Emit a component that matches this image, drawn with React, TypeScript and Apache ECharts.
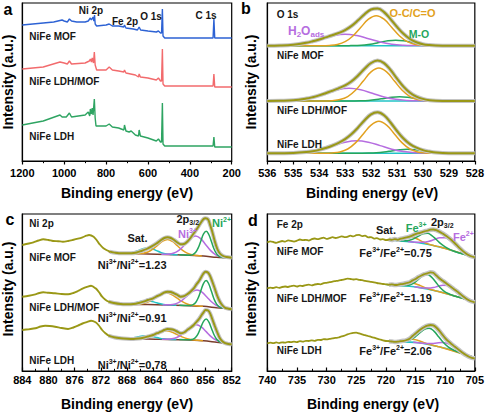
import React, { useEffect, useRef } from "react";
import * as echarts from "echarts";

type P = [number, number];

// ================= Panel a : survey spectra =================
const surveyMOF: P[] = [[1200,136],[1150,137],[1100,138],[1050,139],[1010,141],[1000,140],[985,139],[975,142],[965,140],[940,139],[900,139],[885,140],[875,143],[870,141],[862,144],[858,140],[855,146],[852,137],[845,135],[800,136],[785,137],[770,135],[740,135],[715,134],[712,136],[705,133],[670,132],[650,131],[642,134],[635,131],[600,130],[560,129],[550,130],[540,128],[535,128],[531,152],[528,125],[520,123],[500,123],[400,123],[300,123],[289,123],[285,142],[281,123],[200,123]];
const surveyLDHMOF: P[] = [[1200,92],[1100,94],[1020,99],[1000,98],[985,97],[975,100],[965,97],[900,98],[880,100],[875,102],[870,99],[866,103],[860,98],[856,109],[852,96],[845,91],[800,91],[785,94],[770,91],[740,90],[715,89],[712,91],[705,88],[660,86],[645,84],[642,87],[636,84],[600,83],[560,81],[550,83],[540,80],[535,80],[531,112],[528,77],[520,75],[300,75],[289,75],[285,87],[281,74],[200,74]];
const surveyLDH: P[] = [[1200,36],[1100,40],[1020,46],[1010,44],[990,44],[975,48],[965,44],[900,46],[885,49],[878,45],[875,52],[870,47],[866,53],[862,46],[856,62],[852,43],[848,35],[800,35],[785,37],[770,34],[740,33],[715,31],[712,36],[705,30],[690,29],[680,30],[660,26],[645,25],[642,31],[636,25],[600,23],[560,20],[550,22],[540,19],[535,19],[531,58],[528,17],[520,15],[300,15],[289,15],[285,24],[281,14],[200,14]];

// ================= Panel b : O 1s (heights above each baseline) =================
const o1sBase = [115.3, 60, 7.7]; // MOF, LDH/MOF, LDH
const o1sX = [536,535.5,535,534.5,534.25,534,533.75,533.5,533.25,533,532.75,532.5,532.25,532,531.75,531.5,531.25,531,530.75,530.5,530.25,530,529.75,529.5,529,528];
const o1sEnvMOF = [0,0.2,1.0,2.9,4.4,6.2,8.3,10.4,12.7,15.6,19.8,25.4,31.5,36.2,37.1,33.6,26.6,18.8,11.9,6.7,3.5,1.5,0.6,0.2,0,0];
const o1sEnvLM = [0,0.2,0.7,2.4,3.8,5.6,7.8,10.2,12.7,15.6,19.7,25.5,32.2,38.0,40.5,37.9,31.1,22.4,14.4,8.3,4.4,2.1,0.85,0.3,0,0];
const o1sEnvLDH = [0,0.1,0.3,1.2,2.1,3.4,5.3,7.6,10.4,14.1,19.2,25.8,33.0,39.0,41.0,38.0,30.8,22.3,14.8,9.2,5.6,3.2,1.75,0.75,0.1,0];

const ocX_MOF = [528,529.7,530.0,530.3,530.6,530.9,531.2,531.5,531.8,532.1,532.4,532.7,533.0,533.3,533.6,533.9,536];
const ocH_MOF = [0,0,0.3,1.3,4.05,9.75,18.2,26.5,30,26.5,18.2,9.75,4.05,1.3,0.3,0,0];
const ocX_LM = [528,529.6,529.9,530.2,530.5,530.8,531.1,531.4,531.7,532.0,532.3,532.6,532.9,533.2,533.5,533.8,536];
const ocH_LM = [0,0,0.36,1.45,4.45,10.7,20.0,29.1,33,29.1,20.0,10.7,4.45,1.45,0.36,0,0];
const ocH_LDH = [0,0,0.35,1.4,4.3,10.4,19.4,28.2,32,28.2,19.4,10.4,4.3,1.4,0.35,0,0];

const h2oX_MOF = [528,529.85,530.3,530.75,531.2,531.65,532.1,532.55,533,533.45,533.9,534.35,534.8,535.25,535.7,536];
const h2oH_MOF = [0,0,0.13,0.5,1.55,3.74,7.0,10.1,11.5,10.1,7.0,3.74,1.55,0.5,0.13,0.05];
const h2oX_LM = [528,529.7,530.15,530.6,531.05,531.5,531.95,532.4,532.85,533.3,533.75,534.2,534.65,535.1,535.55,536];
const h2oH_LM = [0,0,0.14,0.56,1.7,4.1,7.7,11.2,12.7,11.2,7.7,4.1,1.7,0.56,0.14,0];
const h2oX_LDH = [528,529.4,529.85,530.3,530.75,531.2,531.65,532.1,532.55,533.0,533.45,533.9,534.35,534.8,535.25,535.7,536];
const h2oH_LDH = [0,0,0.14,0.55,1.7,4.1,7.65,11.1,12.6,11.1,7.65,4.1,1.7,0.55,0.14,0,0];

const moX_MOF = [528,528.95,529.25,529.55,529.85,530.15,530.45,530.75,531.05,531.35,531.65,531.95,532.25,532.55,532.85,533.15,536];
const moH_MOF = [0,0,0.06,0.24,0.74,1.79,3.34,4.85,5.5,4.85,3.34,1.79,0.74,0.24,0.06,0,0];
const moX_LM = [528,528.8,529.1,529.4,529.7,530.0,530.3,530.6,530.9,531.2,531.5,531.8,532.1,532.4,532.7,533.0,536];
const moH_LM = [0,0,0.05,0.19,0.58,1.4,2.6,3.8,4.3,3.8,2.6,1.4,0.58,0.19,0.05,0,0];
const moX_LDH = [528,528.5,528.8,529.1,529.4,529.7,530.0,530.3,530.6,530.9,531.2,531.5,531.8,532.1,532.4,532.7,536];
const moH_LDH = [0,0,0.04,0.18,0.54,1.3,2.4,3.5,4,3.5,2.4,1.3,0.54,0.18,0.04,0,0];

// ================= Panel c : Ni 2p =================
const niMOF: P[] = [[884,126],[883,127.5],[882.3,128.7],[881.5,130.5],[880.8,131.7],[880,131],[879.3,130],[878.5,129.8],[877.8,129.3],[877,130],[876.3,131],[875.5,132.3],[874.8,133.7],[874.2,135.3],[873.8,136],[873.1,134.3],[872.6,130.5],[872.3,127.7],[871.6,122.7],[870.6,119.3],[869.8,118.3],[868.8,117.7],[867.3,117.7],[866.5,118.5],[865.8,120],[865,122],[864.3,124.3],[863.5,127.5],[862.8,131],[862.3,133],[861.8,133.7],[861.3,133],[860.8,131],[860.3,128.5],[859.8,126.7],[859.3,127],[858.8,129.3],[858.3,133],[857.8,137.7],[857.4,141.3],[857.1,144.3],[856.7,148.5],[856.3,152],[856,152.7],[855.6,151.5],[855.3,146],[855,140],[854.6,130],[854.2,122],[853.8,117.5],[853.3,115],[852.8,114],[852,113.3]];
const niLM: P[] = [[884,74.3],[883,75.2],[882,76.7],[881.4,78],[880.8,78.7],[880,78.2],[879,77.7],[878,77],[877,76.7],[876.2,78],[875.5,80],[874.8,82.3],[874,84.3],[873.5,85.3],[872.8,82.7],[872.3,79],[871.8,74.3],[871.3,71.3],[870.8,69.3],[870,68],[869,67],[868,66.8],[867,67],[866.2,68],[865.5,69.3],[864.8,71],[864,72.7],[863.4,74.8],[862.8,76.7],[862.3,78.5],[861.8,79.3],[861.3,79],[860.8,77.7],[860.3,76],[859.8,74.3],[859.3,74.8],[858.8,76.7],[858.3,79.3],[857.8,82.7],[857.4,86.5],[857,90],[856.6,94.5],[856.3,97.7],[856,99.3],[855.6,98.3],[855.3,95],[855,90],[854.6,82.7],[854.2,75],[853.8,69.3],[853.4,65.5],[853,63.2],[852.5,62.3],[852,61.7]];
const niLDH: P[] = [[884,41],[883,41.8],[882,42.7],[881.2,44.5],[880.5,45.3],[879.8,45],[879,44.3],[878,43],[877,42],[876.2,43.5],[875.5,45.3],[874.8,47.5],[874,49.3],[873.5,50.3],[872.8,48.7],[872.3,45.5],[871.8,41],[871.3,37.8],[870.8,35.3],[870,33.8],[869,32.7],[868,32.2],[867,32],[866.2,32.5],[865.5,33.3],[864.8,34.5],[864,36],[863.4,37.8],[862.8,39.3],[862.3,41],[861.8,42],[861.3,41.8],[860.8,41],[860.3,39.3],[859.8,37.7],[859.3,38.5],[858.8,41],[858.3,43.3],[857.8,46],[857.4,49],[857,52],[856.6,56],[856.3,58.7],[856,61],[855.6,60.5],[855.3,57.7],[855,52.5],[854.6,45.3],[854.2,38.5],[853.8,32.7],[853.4,29.5],[853,27.8],[852.5,27],[852,26.7]];
const niBgMOF: P[] = [[870.8,119.3],[868,117.5],[864.8,117],[859.3,116],[856.3,115],[854.3,113.7],[852,113]];
const niBgLM: P[] = [[870.8,69.3],[868,66.7],[864.8,66.4],[859.3,65.6],[856.3,64.7],[854.3,63.3],[852,61.9]];
const niBgLDH: P[] = [[870.8,35.3],[868,32.4],[864.8,32],[859.3,31.3],[856.3,30.3],[854.3,28.8],[852,27.2]];

const ni2X = [852,853.1,853.5,853.9,854.3,854.7,855.1,855.5,855.9,856.3,856.7,857.1,857.5,857.9,858.3,858.7,860];
const ni2MOF = [0,0.05,0.28,1.1,3.4,8.1,15.2,22.05,25,22.05,15.2,8.1,3.4,1.1,0.28,0.05,0];
const ni2LM = [0,0.05,0.29,1.14,3.5,8.45,15.8,22.9,26,22.9,15.8,8.45,3.5,1.14,0.29,0.05,0];
const ni2LDH = [0,0.04,0.24,0.97,3.0,7.15,13.4,19.4,22,19.4,13.4,7.15,3.0,0.97,0.24,0.04,0];
const ni3X_MOF = [852,852.25,853.0,853.75,854.5,855.25,856.0,856.75,857.5,858.25,859.0,859.75,860.5,861.25,862.0,862.75];
const ni3MOF = [0,0.04,0.21,0.86,2.6,6.3,11.8,17.2,19.5,17.2,11.8,6.3,2.6,0.86,0.21,0.04];
const ni3X_LM = [852.05,852.8,853.55,854.3,855.05,855.8,856.55,857.3,858.05,858.8,859.55,860.3,861.05,861.8,862.55];
const ni3LM = [0.03,0.18,0.7,2.16,5.2,9.7,14.1,16,14.1,9.7,5.2,2.16,0.7,0.18,0.03];
const ni3X_LDH = [852,852.15,852.9,853.65,854.4,855.15,855.9,856.65,857.4,858.15,858.9,859.65,860.4,861.15,861.9,862.65];
const ni3LDH = [0,0.03,0.17,0.68,2.1,5.0,9.4,13.7,15.5,13.7,9.4,5.0,2.1,0.68,0.17,0.03];
const niSatAX_MOF = [856.55,857.3,858.05,858.8,859.55,860.3,861.05,861.8,862.55,863.3,864.05,864.8,865.55,866.3,867.05];
const niSatAMOF = [0.03,0.17,0.66,2.0,4.9,9.1,13.2,15,13.2,9.1,4.9,2.0,0.66,0.17,0.03];
const niSatAX = [856.4,857.2,858.0,858.8,859.6,860.4,861.2,862.0,862.8,863.6,864.4,865.2,866.0,866.8,867.6];
const niSatALM = [0.02,0.13,0.53,1.6,3.9,7.3,10.6,12,10.6,7.3,3.9,1.6,0.53,0.13,0.02];
const niSatALDH = [0.02,0.09,0.37,1.15,2.8,5.2,7.5,8.5,7.5,5.2,2.8,1.15,0.37,0.09,0.02];
const niSatBX_MOF = [860.25,860.9,861.55,862.2,862.85,863.5,864.15,864.8,865.45,866.1,866.75,867.4,868.05,868.7,869.35];
const niSatBMOF = [0,0.07,0.26,0.81,1.95,3.64,5.3,6,5.3,3.64,1.95,0.81,0.26,0.07,0];
const niSatBX = [860.45,861.1,861.75,862.4,863.05,863.7,864.35,865,865.65,866.3,866.95,867.6,868.25,868.9,869.55];
const niSatBLM = [0,0.04,0.18,0.54,1.3,2.4,3.5,4,3.5,2.4,1.3,0.54,0.18,0.04,0];
const niSatBLDH = [0,0.04,0.15,0.45,1.07,2.0,2.9,3.3,2.9,2.0,1.07,0.45,0.15,0.04,0];

// ================= Panel d : Fe 2p =================
const feX = [740,739.5,739,738.5,738,737.5,737,736.5,736,735.5,735,734.5,734,733.5,733,732.5,732,731.5,731,730.5,730,729.5,729,728.5,728,727.5,727,726.5,726,725.5,725,724.5,724,723.5,723,722.5,722,721.5,721,720.5,720,719.5,719,718.5,718,717.5,717,716.5,716,715.5,715,714.5,714,713.5,713,712.5,712,711.5,711,710.5,710,709.5,709,708.5,708,707.5,707,706.5,706,705.5,705];
const feMOF = [128.7,129.6,129.0,128.2,129.1,130.0,129.4,130.6,130.1,129.4,130.3,131.5,130.8,131.2,130.4,131.9,132.5,131.8,132.6,133.4,132.1,132.9,133.8,133.0,133.6,134.7,133.9,134.2,135.3,134.6,135.8,136.2,134.9,135.4,133.6,133.9,132.4,132.9,131.5,131.9,130.8,131.6,131.1,131.9,131.2,132.3,132.8,133.6,134.3,135.6,136.8,137.8,138.7,139.6,140.4,141.3,141.5,140.8,139.4,137.8,135.8,133.6,131.2,128.5,125.6,122.6,119.9,117.6,115.8,114.5,113.7];
const feLM = [82.7,83.4,83.0,83.8,83.2,84.0,84.5,84.0,84.9,85.3,84.5,85.4,85.0,85.9,86.3,85.7,86.5,87.0,86.7,87.9,88.2,88.8,89.4,89.9,90.4,91.0,91.6,92.4,92.0,91.5,91.9,91.2,90.8,90.1,89.6,89.2,88.7,88.0,87.5,87.0,86.7,86.3,86.6,86.0,86.2,86.8,87.2,88.0,88.7,90.6,92.0,94.0,95.5,96.8,97.7,98.7,98.3,95.6,92.8,90.5,88.5,86.2,84.0,81.8,79.6,77.2,74.8,72.6,70.8,69.5,68.7];
const feLDH = [27.7,28.3,27.8,28.6,27.9,28.7,28.3,29.2,28.8,29.4,28.9,29.8,29.3,30.2,30.0,30.6,30.2,31.2,31.0,31.9,31.6,32.2,32.6,33.1,33.5,34.6,35.4,36.6,37.5,38.2,38.3,37.6,36.7,35.8,35.0,34.1,33.3,32.4,31.5,30.6,30.0,29.8,29.5,29.1,29.3,29.8,30.2,31.0,32.3,35.0,37.5,40.0,42.2,44.0,45.3,46.0,45.6,43.5,40.3,36.5,32.8,29.8,27.3,24.9,22.6,20.2,17.9,15.9,14.3,13.2,12.7];
const feBgMOF: P[] = [[720,131],[718,130.4],[716,129.3],[714.5,128.2],[713,126.7],[711.5,124.8],[710,122.7],[708,118.7],[706,115.3],[705,113.7]];
const feBgLM: P[] = [[720,86.5],[718,85.6],[716,84.7],[714.5,83.6],[713,82],[711.5,80],[710,77.7],[708,74.3],[706,71],[705,69.3]];
const feBgLDH: P[] = [[720,30],[718,29.2],[716,28.9],[714.5,28.2],[713,26.7],[711.5,24.8],[710,22.7],[708,19.3],[706,15.3],[705,13.3]];

const fe3X_MOF = [705,707.75,708.5,709.25,710,710.75,711.5,712.25,713,713.75,714.5,715.25,716,716.75,717.5,718.25];
const fe3MOF = [0,0.02,0.12,0.48,1.5,3.6,6.7,9.7,11,9.7,6.7,3.6,1.5,0.48,0.12,0.02];
const fe2X_MOF = [705,705.5,706.4,707.3,708.2,709.1,710,710.9,711.8,712.7,713.6,714.5,715.4,716.3];
const fe2MOF = [0.22,0.46,1.42,3.41,6.37,9.26,10.5,9.26,6.37,3.41,1.42,0.46,0.12,0.02];
const feSatX_MOF = [705,710.9,711.6,712.3,713.0,713.7,714.4,715.1,715.8,716.5,717.2,717.9,718.6,719.3,720.0];
const feSatMOF = [0,0.01,0.06,0.22,0.68,1.6,3.0,4.4,5,4.4,3.0,1.6,0.68,0.22,0.06];
const fe3X_LM = [705,708.1,708.8,709.5,710.2,710.9,711.6,712.3,713,713.7,714.4,715.1,715.8,716.5,717.2,717.9];
const fe3LM = [0,0.03,0.16,0.64,1.96,4.7,8.8,12.8,14.5,12.8,8.8,4.7,1.96,0.64,0.16,0.03];
const fe2X_LM = [705,705.6,706.4,707.2,708,708.8,709.6,710.4,711.2,712,712.8,713.6,714.4,715.2];
const fe2LM = [0.14,0.37,1.15,2.76,5.2,7.5,8.5,7.5,5.2,2.76,1.15,0.37,0.09,0.02];
const feSatX_LM = [705,710.7,711.4,712.1,712.8,713.5,714.2,714.9,715.6,716.3,717.0,717.7,718.4,719.1,719.8];
const feSatLM = [0,0,0.04,0.15,0.47,1.14,2.1,3.1,3.5,3.1,2.1,1.14,0.47,0.15,0.04];
const fe3X_LDH = [705,707.1,707.9,708.7,709.5,710.3,711.1,711.9,712.7,713.5,714.3,715.1,715.9,716.7,717.5,718.3];
const fe3LDH = [0,0.03,0.18,0.73,2.23,5.36,10.0,14.55,16.5,14.55,10.0,5.36,2.23,0.73,0.18,0.03];
const fe2X_LDH = [705,705.8,706.6,707.4,708.2,709.0,709.8,710.6,711.4,712.2,713.0,713.8,714.6,715.4];
const fe2LDH = [0.06,0.24,0.74,1.8,3.3,4.85,5.5,4.85,3.3,1.8,0.74,0.24,0.06,0.01];
const feSatX_LDH = [705,710.6,711.3,712.0,712.7,713.4,714.1,714.8,715.5,716.2,716.9,717.6,718.3,719.0,719.7];
const feSatLDH = [0,0,0.03,0.13,0.41,0.98,1.82,2.65,3,2.65,1.82,0.98,0.41,0.13,0.03];

const FONT = "'Liberation Sans', Arial, Helvetica, sans-serif";
const COL = {
  blue: "#2d62d4", red: "#f26b6d", green: "#2ea462", olive: "#9a9816", halo: "#c4c4c4",
  orange: "#e2a120", purple: "#b66de0", mgreen: "#25a65c", cyan: "#22c3c6", brown: "#7a3d2c", text: "#161616",
};

export default function App() {
  const ref = useRef<HTMLDivElement>(null);
  useEffect(() => {
    document.body.style.margin = "0";
    const chart = echarts.init(ref.current!, null, { renderer: "svg" });

    const zip = (xs: number[], hs: number[]): P[] => xs.map((x, i) => [x, hs[i]]);
    const lift = (pts: P[], base: number): P[] => pts.map(([x, y]) => [x, y + base]);
    const interp = (bg: P[], x: number) => {
      const s = [...bg].sort((a, b) => a[0] - b[0]);
      if (x <= s[0][0]) return s[0][1];
      for (let i = 1; i < s.length; i++) {
        if (x <= s[i][0]) {
          const [x0, y0] = s[i - 1];
          const [x1, y1] = s[i];
          return y0 + ((y1 - y0) * (x - x0)) / (x1 - x0);
        }
      }
      return s[s.length - 1][1];
    };
    const onBg = (bg: P[], pts: P[]): P[] => pts.map(([x, y]) => [x, y + interp(bg, x)]);

    const series: any[] = [];
    const add = (g: number, data: P[], color: string, width: number, smooth: number | boolean, z = 2) =>
      series.push({
        type: "line", xAxisIndex: g, yAxisIndex: g, data, symbol: "none", showSymbol: false, smooth,
        lineStyle: { color, width }, itemStyle: { color }, z, silent: true,
      });

    // a
    add(0, surveyMOF, COL.blue, 1.4, false);
    add(0, surveyLDHMOF, COL.red, 1.4, false);
    add(0, surveyLDH, COL.green, 1.4, false);

    // b
    const bGroups = [
      { env: o1sEnvMOF, oc: zip(ocX_MOF, ocH_MOF), h2o: zip(h2oX_MOF, h2oH_MOF), mo: zip(moX_MOF, moH_MOF) },
      { env: o1sEnvLM, oc: zip(ocX_LM, ocH_LM), h2o: zip(h2oX_LM, h2oH_LM), mo: zip(moX_LM, moH_LM) },
      { env: o1sEnvLDH, oc: zip(ocX_LM, ocH_LDH), h2o: zip(h2oX_LDH, h2oH_LDH), mo: zip(moX_LDH, moH_LDH) },
    ];
    bGroups.forEach((g, i) => {
      const b = o1sBase[i];
      add(1, [[536, b], [528, b]], COL.cyan, 1.6, false, 2);
      add(1, lift(g.mo, b), COL.mgreen, 1.5, 0.4, 3);
      add(1, lift(g.h2o, b), COL.purple, 1.5, 0.4, 3);
      add(1, lift(g.oc, b), COL.orange, 1.5, 0.4, 4);
      add(1, lift(zip(o1sX, g.env), b), COL.halo, 4, 0.4, 5);
      add(1, lift(zip(o1sX, g.env), b), COL.olive, 2, 0.4, 6);
    });

    // c
    const cGroups = [
      { d: niMOF, bg: niBgMOF, n2: zip(ni2X, ni2MOF), n3: zip(ni3X_MOF, ni3MOF), sa: zip(niSatAX_MOF, niSatAMOF), sb: zip(niSatBX_MOF, niSatBMOF) },
      { d: niLM, bg: niBgLM, n2: zip(ni2X, ni2LM), n3: zip(ni3X_LM, ni3LM), sa: zip(niSatAX, niSatALM), sb: zip(niSatBX, niSatBLM) },
      { d: niLDH, bg: niBgLDH, n2: zip(ni2X, ni2LDH), n3: zip(ni3X_LDH, ni3LDH), sa: zip(niSatAX, niSatALDH), sb: zip(niSatBX, niSatBLDH) },
    ];
    cGroups.forEach((g) => {
      add(2, g.bg, COL.brown, 1.5, 0.3, 2);
      add(2, onBg(g.bg, g.sb), COL.cyan, 1.5, 0.4, 3);
      add(2, onBg(g.bg, g.sa), COL.orange, 1.5, 0.4, 3);
      add(2, onBg(g.bg, g.n3), COL.purple, 1.5, 0.4, 3);
      add(2, onBg(g.bg, g.n2), COL.mgreen, 1.5, 0.4, 3);
      add(2, g.d.filter(([x]) => x <= 871), COL.halo, 4, 0.3, 5);
      add(2, g.d, COL.olive, 1.9, 0.3, 6);
    });

    // d
    const dGroups = [
      { d: zip(feX, feMOF), bg: feBgMOF, f3: zip(fe3X_MOF, fe3MOF), f2: zip(fe2X_MOF, fe2MOF), s: zip(feSatX_MOF, feSatMOF) },
      { d: zip(feX, feLM), bg: feBgLM, f3: zip(fe3X_LM, fe3LM), f2: zip(fe2X_LM, fe2LM), s: zip(feSatX_LM, feSatLM) },
      { d: zip(feX, feLDH), bg: feBgLDH, f3: zip(fe3X_LDH, fe3LDH), f2: zip(fe2X_LDH, fe2LDH), s: zip(feSatX_LDH, feSatLDH) },
    ];
    dGroups.forEach((g) => {
      add(3, g.bg, COL.cyan, 1.6, 0.3, 2);
      add(3, onBg(g.bg, g.s), COL.orange, 1.5, 0.4, 3);
      add(3, onBg(g.bg, g.f2), COL.purple, 1.5, 0.4, 3);
      add(3, onBg(g.bg, g.f3), COL.mgreen, 1.5, 0.4, 3);
      add(3, g.d.filter(([x]) => x <= 719.5), COL.halo, 4.5, 0.2, 5);
      add(3, g.d, COL.olive, 1.8, 0.2, 6);
    });

    const xAx = (g: number, min: number, max: number, interval: number, inside: boolean) => ({
      gridIndex: g, type: "value", inverse: true, min, max, interval,
      axisLine: { show: true, onZero: false, lineStyle: { color: "#000", width: 1.2 } },
      axisTick: { show: true, inside, length: 3.5, lineStyle: { color: "#000", width: 1.2 } },
      minorTick: { show: true, splitNumber: 2, length: 2.2, lineStyle: { color: "#000", width: 1 } },
      axisLabel: {
        color: "#000", fontSize: 11, fontWeight: "bold", fontFamily: FONT, margin: inside ? 3 : 6,
        showMinLabel: true, showMaxLabel: true, formatter: (v: number) => String(v),
      },
      splitLine: { show: false },
    });
    const yAx = (g: number, max: number) => ({
      gridIndex: g, type: "value", min: 0, max,
      axisLine: { show: true, lineStyle: { color: "#000", width: 1.2 } },
      axisTick: { show: false }, axisLabel: { show: false }, splitLine: { show: false },
    });
    const gridBase = { show: true, borderColor: "#000", borderWidth: 1.2, backgroundColor: "transparent", containLabel: false };

    const T = (x: number, y: number, text: string, size = 10, color = COL.text, align = "left", extra: any = {}) => ({
      type: "text", x, y, silent: true, z: 100, ...extra,
      style: { text, fill: color, font: `bold ${size}px ${FONT}`, align, verticalAlign: "middle" },
    });
    const tok = (size: number, color: string, va: string, lh: number) => ({
      fontSize: size, fontWeight: "bold", fontFamily: FONT, fill: color, verticalAlign: va, lineHeight: lh,
    });
    const R = (x: number, y: number, text: string, color: string, size = 11, sub = 7, align = "left") => ({
      type: "text", x, y, silent: true, z: 100,
      style: {
        text, align, verticalAlign: "middle", fill: color, font: `bold ${size}px ${FONT}`,
        rich: { m: tok(size, color, "middle", size + 3), u: tok(sub, color, "top", sub), d: tok(sub, color, "bottom", sub) },
      },
    });

    const graphics: any[] = [
      // panel letters
      T(8, 9, "a", 16, "#000", "center"),
      T(246, 8, "b", 16, "#000", "center"),
      T(10, 219.5, "c", 16, "#000", "center"),
      T(253, 220.5, "d", 16, "#000", "center"),
      // axis titles
      T(127, 192.5, "Binding energy (eV)", 14, "#000", "center"),
      T(372, 192.5, "Binding energy (eV)", 14, "#000", "center"),
      T(127, 404, "Binding energy (eV)", 14, "#000", "center"),
      T(373, 404, "Binding energy (eV)", 14, "#000", "center"),
      T(7.5, 82, "Intensity (a.u.)", 14, "#000", "center", { rotation: Math.PI / 2 }),
      T(251, 82, "Intensity (a.u.)", 14, "#000", "center", { rotation: Math.PI / 2 }),
      T(7.5, 289, "Intensity (a.u.)", 14, "#000", "center", { rotation: Math.PI / 2 }),
      T(251, 289, "Intensity (a.u.)", 14, "#000", "center", { rotation: Math.PI / 2 }),
      // panel a
      T(91, 10.3, "Ni 2p", 10, COL.text, "center"),
      T(125, 21, "Fe 2p", 10, COL.text, "center"),
      T(151, 16.7, "O 1s", 10, COL.text, "center"),
      T(206, 15.5, "C 1s", 10, COL.text, "center"),
      T(29.3, 36, "NiFe MOF", 10),
      T(29.3, 81.7, "NiFe LDH/MOF", 10),
      T(29.3, 136.7, "NiFe LDH", 10),
      // panel b
      T(276.7, 14, "O 1s", 10),
      T(412.5, 12.5, "O-C/C=O", 11, COL.orange, "center"),
      R(288, 31, "{m|H}{d|2}{m|O}{d|ads}", COL.purple, 12, 8),
      T(419, 34, "M-O", 10.5, COL.mgreen, "center"),
      T(277, 55.8, "NiFe MOF", 10),
      T(277, 110, "NiFe LDH/MOF", 10),
      T(277, 144.8, "NiFe LDH", 10),
      // panel c
      T(29.3, 223.3, "Ni 2p", 10),
      T(137.5, 238.3, "Sat.", 11, COL.text, "center"),
      R(176.5, 218.5, "{m|2p}{d|3/2}", COL.text, 11, 7),
      R(178, 234, "{m|Ni}{u|3+}", COL.purple, 11, 7),
      R(212, 223, "{m|Ni}{u|2+}", COL.mgreen, 11, 7),
      T(29.3, 257.5, "NiFe MOF", 10),
      T(29.3, 307.8, "NiFe LDH/MOF", 10),
      T(29.3, 360, "NiFe LDH", 10),
      R(97.7, 264.5, "{m|Ni}{u|3+}{m|/Ni}{u|2+}{m|=1.23}", COL.text),
      R(97.7, 317.5, "{m|Ni}{u|3+}{m|/Ni}{u|2+}{m|=0.91}", COL.text),
      R(97.7, 364.5, "{m|Ni}{u|3+}{m|/Ni}{u|2+}{m|=0.78}", COL.text),
      // panel d
      T(276.7, 224, "Fe 2p", 10),
      T(386, 229.5, "Sat.", 11, COL.text, "center"),
      R(405.7, 228, "{m|Fe}{u|3+}", COL.mgreen, 11, 7),
      R(431, 221.5, "{m|2p}{d|3/2}", COL.text, 11, 7),
      R(453, 237, "{m|Fe}{u|2+}", COL.purple, 11, 7),
      T(276.7, 251.8, "NiFe MOF", 10),
      T(276.7, 298.8, "NiFe LDH/MOF", 10),
      T(276.7, 350.8, "NiFe LDH", 10),
      R(359.3, 253, "{m|Fe}{u|3+}{m|/Fe}{u|2+}{m|=0.75}", COL.text),
      R(359.3, 298, "{m|Fe}{u|3+}{m|/Fe}{u|2+}{m|=1.19}", COL.text),
      R(359.3, 350.7, "{m|Fe}{u|3+}{m|/Fe}{u|2+}{m|=2.06}", COL.text),
    ];

    chart.setOption({
      animation: false,
      backgroundColor: "#fff",
      textStyle: { fontFamily: FONT },
      grid: [
        { ...gridBase, left: 22.3, top: 3, width: 209.4, height: 158 },
        { ...gridBase, left: 267.3, top: 3, width: 208.7, height: 158 },
        { ...gridBase, left: 22.3, top: 214, width: 209.4, height: 157 },
        { ...gridBase, left: 267.3, top: 214, width: 208.7, height: 157 },
      ],
      xAxis: [xAx(0, 200, 1200, 200, false), xAx(1, 528, 536, 1, false), xAx(2, 852, 884, 4, true), xAx(3, 705, 740, 5, true)],
      yAxis: [yAx(0, 158), yAx(1, 158), yAx(2, 157), yAx(3, 157)],
      series,
      graphic: graphics,
    });
    return () => chart.dispose();
  }, []);
  return <div ref={ref} style={{ position: "fixed", left: 0, top: 0, width: 487, height: 415, background: "#fff" }} />;
}
